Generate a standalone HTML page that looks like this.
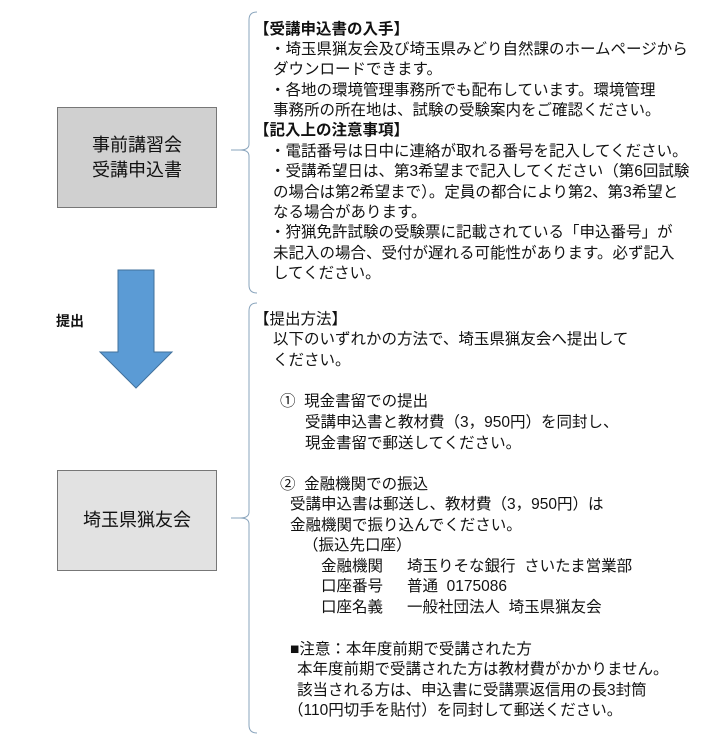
<!DOCTYPE html>
<html><head><meta charset="utf-8"><style>
body{margin:0;width:705px;height:742px;background:#fff;position:relative;overflow:hidden;font-family:"Liberation Sans","Noto Sans CJK JP",sans-serif;color:#111}
.t{position:absolute;white-space:nowrap;font-size:15.5px;line-height:20px}
.b{font-weight:bold}
.box{position:absolute;left:57px;width:158px;border:1px solid #777;display:flex;align-items:center;justify-content:center;text-align:center;font-size:18px;line-height:25px}
</style></head><body>
<div class="box" style="top:107px;height:99px;background:#d0d0d0">事前講習会<br>受講申込書</div>
<div class="box" style="top:470px;height:99px;background:#e2e2e2">埼玉県猟友会</div>
<div class="t b" style="left:56px;top:311px;font-size:14px">提出</div>
<svg style="position:absolute;left:0;top:0" width="705" height="742">
<polygon points="118,270 154,270 154,352 172,352 136,388 100,352 118,352" fill="#5b9bd5" stroke="#41719c" stroke-width="1"/>
<path d="M257,12 Q249,12 249,20 L249,144 Q249,150 240,150 L231,150 M240,150 Q249,150 249,156 L249,285 Q249,293 257,293" fill="none" stroke="#8aa5bd" stroke-width="1"/>
<path d="M257,303 Q249,303 249,311 L249,512 Q249,518 240,518 L231,518 M240,518 Q249,518 249,524 L249,725 Q249,733 257,733" fill="none" stroke="#8aa5bd" stroke-width="1"/>
</svg>
<div class="t b" style="left:254px;top:20px">【受講申込書の入手】</div>
<div class="t" style="left:270px;top:40px">・埼玉県猟友会及び埼玉県みどり自然課のホームページから</div>
<div class="t" style="left:273px;top:60px">ダウンロードできます。</div>
<div class="t" style="left:270px;top:81px">・各地の環境管理事務所でも配布しています。環境管理</div>
<div class="t" style="left:273px;top:101px">事務所の所在地は、試験の受験案内をご確認ください。</div>
<div class="t b" style="left:254px;top:121px">【記入上の注意事項】</div>
<div class="t" style="left:270px;top:142px">・電話番号は日中に連絡が取れる番号を記入してください。</div>
<div class="t" style="left:270px;top:162px">・受講希望日は、第3希望まで記入してください（第6回試験</div>
<div class="t" style="left:273px;top:183px">の場合は第2希望まで）。定員の都合により第2、第3希望と</div>
<div class="t" style="left:273px;top:203px">なる場合があります。</div>
<div class="t" style="left:270px;top:223px">・狩猟免許試験の受験票に記載されている「申込番号」が</div>
<div class="t" style="left:273px;top:244px">未記入の場合、受付が遅れる可能性があります。必ず記入</div>
<div class="t" style="left:273px;top:264px">してください。</div>

<div class="t" style="left:254px;top:310px">【提出方法】</div>
<div class="t" style="left:273px;top:330px">以下のいずれかの方法で、埼玉県猟友会へ提出して</div>
<div class="t" style="left:273px;top:351px">ください。</div>
<div class="t" style="left:280px;top:392px">①&nbsp;&nbsp;現金書留での提出</div>
<div class="t" style="left:305px;top:413px">受講申込書と教材費（3，950円）を同封し、</div>
<div class="t" style="left:305px;top:434px">現金書留で郵送してください。</div>
<div class="t" style="left:280px;top:475px">②&nbsp;&nbsp;金融機関での振込</div>
<div class="t" style="left:290px;top:495px">受講申込書は郵送し、教材費（3，950円）は</div>
<div class="t" style="left:290px;top:516px">金融機関で振り込んでください。</div>
<div class="t" style="left:303px;top:536px">（振込先口座）</div>
<div class="t" style="left:321px;top:557px">金融機関</div><div class="t" style="left:407px;top:557px">埼玉りそな銀行&nbsp;&nbsp;さいたま営業部</div>
<div class="t" style="left:321px;top:577px">口座番号</div><div class="t" style="left:407px;top:577px">普通&nbsp;&nbsp;0175086</div>
<div class="t" style="left:321px;top:598px">口座名義</div><div class="t" style="left:407px;top:598px">一般社団法人&nbsp;&nbsp;埼玉県猟友会</div>
<div class="t" style="left:290px;top:640px">■注意：本年度前期で受講された方</div>
<div class="t" style="left:297px;top:660px">本年度前期で受講された方は教材費がかかりません。</div>
<div class="t" style="left:297px;top:681px">該当される方は、申込書に受講票返信用の長3封筒</div>
<div class="t" style="left:288px;top:701px">（110円切手を貼付）を同封して郵送ください。</div>
</body></html>
